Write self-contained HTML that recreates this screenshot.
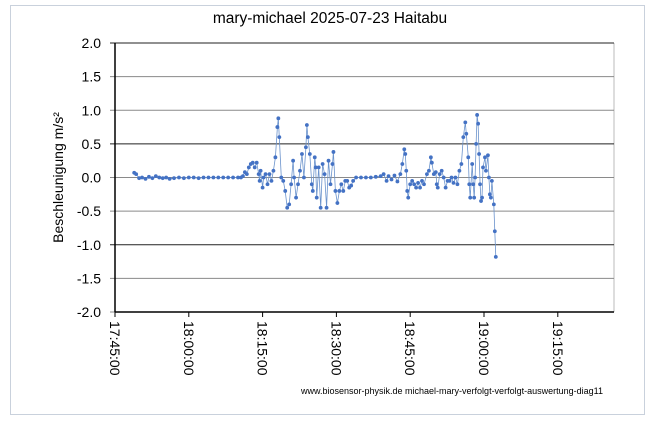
<!DOCTYPE html>
<html><head><meta charset="utf-8"><style>
body{margin:0;background:#fff;font-family:"Liberation Sans",sans-serif}
#wrap{position:relative;width:656px;height:423px}
</style></head><body>
<div id="wrap">
<svg id="chart" width="656" height="423"></svg>
</div>
<script>
const times=["17:48:54","17:49:18","17:49:54","17:50:30","17:51:12","17:51:54","17:52:36","17:53:18","17:54:00","17:54:42","17:55:24","17:56:06","17:57:00","17:58:00","17:59:00","18:00:00","18:01:00","18:02:00","18:03:00","18:04:00","18:05:00","18:06:00","18:07:00","18:08:00","18:09:00","18:10:00","18:10:36","18:11:00","18:11:24","18:11:48","18:12:12","18:12:36","18:13:00","18:13:24","18:13:48","18:14:12","18:14:24","18:14:36","18:15:00","18:15:12","18:15:36","18:16:00","18:16:24","18:16:48","18:17:12","18:17:36","18:18:00","18:18:12","18:18:24","18:18:48","18:19:12","18:19:36","18:20:00","18:20:24","18:20:48","18:21:12","18:21:24","18:21:48","18:22:12","18:22:36","18:23:00","18:23:24","18:23:48","18:24:00","18:24:12","18:24:36","18:25:00","18:25:12","18:25:36","18:25:48","18:26:00","18:26:24","18:26:48","18:27:12","18:27:36","18:28:00","18:28:24","18:28:48","18:29:12","18:29:24","18:29:48","18:30:12","18:30:36","18:31:00","18:31:24","18:31:48","18:32:12","18:32:36","18:33:00","18:33:24","18:34:00","18:35:00","18:36:00","18:37:00","18:38:00","18:39:00","18:39:36","18:40:12","18:40:36","18:41:12","18:41:48","18:42:24","18:43:00","18:43:24","18:43:48","18:44:00","18:44:12","18:44:24","18:44:36","18:45:00","18:45:24","18:45:48","18:46:12","18:46:36","18:47:00","18:47:24","18:47:48","18:48:24","18:48:48","18:49:12","18:49:24","18:49:48","18:50:12","18:50:24","18:50:36","18:51:00","18:51:24","18:51:48","18:52:12","18:52:36","18:53:00","18:53:24","18:53:48","18:54:12","18:54:36","18:55:00","18:55:24","18:55:48","18:56:12","18:56:24","18:56:48","18:57:00","18:57:12","18:57:36","18:57:48","18:58:00","18:58:12","18:58:24","18:58:36","18:58:48","18:59:00","18:59:12","18:59:24","18:59:36","18:59:48","19:00:12","19:00:24","19:00:48","19:01:00","19:01:12","19:01:24","19:01:36","19:02:00","19:02:12","19:02:24"];
const values=[0.07,0.05,-0.01,0.0,-0.02,0.01,-0.01,0.02,0.0,-0.01,0.0,-0.02,-0.01,0.0,-0.01,0.0,0.0,-0.01,0.0,0.0,0.0,0.0,0.0,0.0,0.0,0.0,0.0,0.02,0.08,0.05,0.15,0.2,0.22,0.15,0.22,0.05,-0.05,0.1,-0.15,0.0,0.05,-0.1,0.05,-0.05,0.1,0.3,0.75,0.88,0.6,0.0,-0.05,-0.2,-0.45,-0.4,-0.1,0.25,0.0,-0.3,-0.1,0.1,0.35,0.0,0.45,0.78,0.6,0.35,-0.1,-0.2,0.3,0.15,-0.3,0.15,-0.45,0.2,0.05,-0.45,0.25,-0.1,0.2,0.38,-0.2,-0.38,-0.2,-0.1,-0.2,-0.05,-0.05,-0.15,-0.12,-0.05,0.0,0.0,0.0,0.0,0.01,0.02,0.05,-0.05,0.02,-0.03,0.03,-0.06,0.05,0.2,0.42,0.35,0.1,-0.2,-0.3,-0.1,-0.05,-0.1,-0.15,-0.08,-0.15,-0.05,-0.1,0.05,0.1,0.3,0.22,0.05,0.08,-0.1,-0.15,0.05,0.1,0.0,-0.15,-0.05,-0.05,0.0,-0.08,0.0,-0.1,0.1,0.2,0.6,0.82,0.65,0.3,-0.1,-0.3,0.2,-0.1,-0.3,0.0,0.5,0.93,0.8,0.35,-0.1,-0.35,-0.3,0.15,0.3,0.1,0.33,0.0,-0.25,-0.3,-0.05,-0.4,-0.8,-1.18];
const yTicks=["2.0","1.5","1.0","0.5","0.0","-0.5","-1.0","-1.5","-2.0"];
const xTicks=["17:45:00","18:00:00","18:15:00","18:30:00","18:45:00","19:00:00","19:15:00"];
const NS="http://www.w3.org/2000/svg";
const svg=document.getElementById('chart');
const L=115,R=614,T=43,B=312,yMin=-2,yMax=2;
const t0=17*3600+45*60, pxPerSec=73.8/900;
function sec(s){const p=s.split(':').map(Number);return p[0]*3600+p[1]*60+p[2];}
function X(s){return L+(sec(s)-t0)*pxPerSec;}
function Y(v){return B-(v-yMin)/(yMax-yMin)*(B-T);}
function el(tag,attrs,parent){const e=document.createElementNS(NS,tag);for(const k in attrs)e.setAttribute(k,attrs[k]);(parent||svg).appendChild(e);return e;}
let e;
e=el('rect',{x:10.5,y:5.5,width:634,height:409,fill:'#fff',stroke:'#c9d1dc'});


e=el('text',{x:330,y:23,'text-anchor':'middle','font-size':15.5,fill:'#000'});e.textContent='mary-michael 2025-07-23 Haitabu';


e=el('line',{x1:R,y1:T,x2:R,y2:B,stroke:'#bbb'});


yTicks.forEach((t,i)=>{const v=parseFloat(t);const y=Y(v);
 const dark=(i%3===0);
 const g=el('line',{x1:110,y1:y,x2:R,y2:y,stroke:dark?'#222':'#8a8a8a','stroke-width':1});
 
 
 const tx=el('text',{x:101,y:y+5,'text-anchor':'end','font-size':14,fill:'#000'});tx.textContent=t;
 
 
});
e=el('line',{x1:L,y1:T,x2:L,y2:B,stroke:'#000','stroke-width':1.5});


e=el('line',{x1:L,y1:B,x2:R,y2:B,stroke:'#000','stroke-width':1.5});


xTicks.forEach(t=>{const x=X(t);
 const tk=el('line',{x1:x,y1:B,x2:x,y2:B+5,stroke:'#000'});
 
 
 const tx=el('text',{x:0,y:0,'font-size':14,fill:'#000',transform:`translate(${x-5},${B+9}) rotate(90)`});tx.textContent=t;
 
 
});
e=el('text',{x:0,y:0,'font-size':14,'text-anchor':'middle',fill:'#000',transform:`translate(63,${(T+B)/2}) rotate(-90)`});e.textContent='Beschleunigung  m/s²';


const pts=times.map((t,i)=>X(t).toFixed(1)+','+Y(values[i]).toFixed(1)).join(' ');
e=el('polyline',{points:pts,fill:'none',stroke:'#6b93cc','stroke-width':0.8});


times.forEach((t,i)=>{const c=el('circle',{cx:X(t),cy:Y(values[i]),r:1.9,fill:'#4472c4'});
 
 
});
e=el('text',{x:301,y:394,'font-size':9,fill:'#000'});e.textContent='www.biosensor-physik.de   michael-mary-verfolgt-verfolgt-auswertung-diag11';


</script>
</body></html>
